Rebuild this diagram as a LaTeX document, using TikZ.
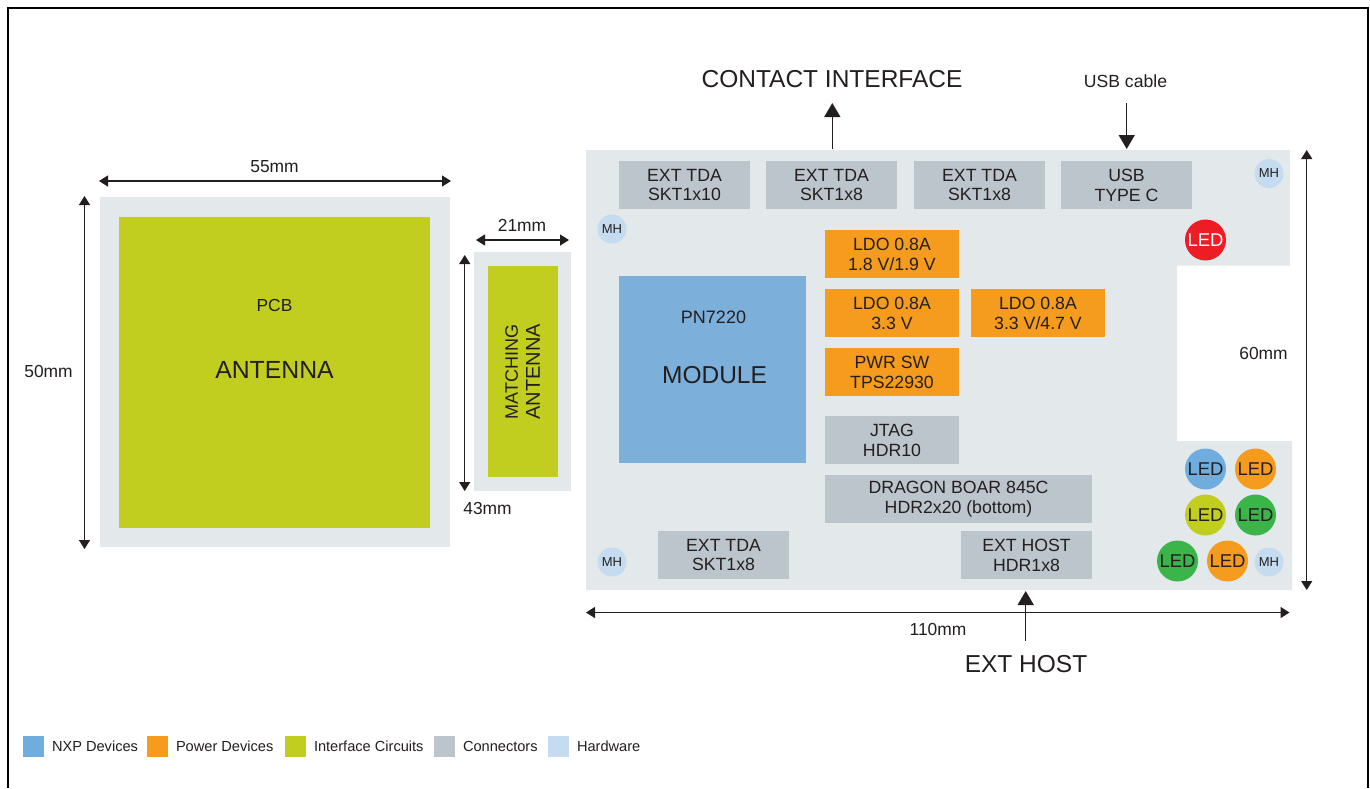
\documentclass[tikz,border=0pt]{standalone}
\usepackage{fontspec}
\setmainfont{Liberation Sans}
\usetikzlibrary{arrows.meta}
\definecolor{nxpblue}{HTML}{6FADDE}
\definecolor{modblue}{HTML}{7DAFDB}
\definecolor{pwr}{HTML}{F59B1E}
\definecolor{iface}{HTML}{C1CE20}
\definecolor{conn}{HTML}{BDC5CC}
\definecolor{hw}{HTML}{C5DCF0}
\definecolor{pale}{HTML}{E3E8EB}
\definecolor{ledgreen}{HTML}{3BB54A}
\definecolor{ledred}{HTML}{EE1C25}
\definecolor{ink}{HTML}{231F20}
\tikzset{
  x=1pt,y=-1pt,
  every node/.style={text=ink,inner sep=0pt,outer sep=0pt},
  boxbase/.style={draw=none,align=center,font=\fontsize{17.7}{19.8}\selectfont},
  conbox/.style={boxbase,fill=conn},
  pwrbox/.style={boxbase,fill=pwr},
  ledc/.style={circle,minimum size=41,font=\fontsize{18.5}{20}\selectfont},
  mhc/.style={circle,fill=hw,minimum size=29,font=\fontsize{13}{14}\selectfont},
  lab/.style={font=\fontsize{17.4}{20}\selectfont},
  dim/.style={draw=ink,line width=1.2pt,{Triangle[length=9pt,width=11pt]}-{Triangle[length=9pt,width=11pt]}},
  bigarrow/.style={draw=ink,line width=1.5pt,-{Triangle[length=14pt,width=16pt]}},
  legtx/.style={anchor=west,font=\fontsize{14.6}{16}\selectfont},
}
\newcommand{\bx}[7]{\node[#2,minimum width=#5-#3,minimum height=#6-#4] (#1) at ({(#3+#5)/2},{(#4+#6)/2}) {#7};}
\begin{document}
\begin{tikzpicture}
\useasboundingbox (0,0) rectangle (1370,788);
\fill[white] (0,0) rectangle (1370,788);
% outer frame
\draw[black,line width=2pt] (8,788) -- (8,8) -- (1368,8) -- (1368,788);
% left panels
\bx{pcbback}{fill=pale}{100}{197}{450}{547}{}
\bx{antenna}{fill=iface}{119}{217}{430}{528}{}
\node[lab] (pcb) at (274.5,306) {PCB};
\node[font=\fontsize{24.8}{28}\selectfont] (anttxt) at (274.5,370) {ANTENNA};
\bx{matchback}{fill=pale}{474}{252}{571}{491}{}
\bx{matching}{fill=iface}{488}{266}{558}{477}{}
\node[rotate=90,anchor=west,font=\fontsize{18}{21}\selectfont] (matchtxt) at (511.7,419.5) {MATCHING};
\node[rotate=90,anchor=west,font=\fontsize{20}{21}\selectfont] (matchtxtb) at (533,419.5) {ANTENNA};
% board
\fill[pale] (586,150) -- (1290,150) -- (1290,265.5) -- (1177,265.5) -- (1177,441) -- (1292,441) -- (1292,590) -- (586,590) -- cycle;
\bx{tda1}{conbox}{619}{161}{750}{209}{EXT TDA\\SKT1x10}
\bx{tda2}{conbox}{766}{161}{897}{209}{EXT TDA\\SKT1x8}
\bx{tda3}{conbox}{914}{161}{1045}{209}{EXT TDA\\SKT1x8}
\bx{usb}{conbox}{1061}{161}{1192}{209}{USB\\TYPE C}
\bx{ldoa}{pwrbox}{825}{230}{959}{278}{LDO 0.8A\\1.8 V/1.9 V}
\bx{ldob}{pwrbox}{825}{289}{959}{337}{LDO 0.8A\\3.3 V}
\bx{ldoc}{pwrbox}{971}{289}{1105}{337}{LDO 0.8A\\3.3 V/4.7 V}
\bx{pwrsw}{pwrbox}{825}{348}{959}{396}{PWR SW\\TPS22930}
\bx{jtag}{conbox}{825}{416}{959}{464}{JTAG\\HDR10}
\bx{dragon}{conbox}{825}{475}{1092}{523}{DRAGON BOAR 845C\\HDR2x20 (bottom)}
\bx{tda4}{conbox}{658}{531}{789}{579}{EXT TDA\\SKT1x8}
\bx{host}{conbox}{961}{531}{1092}{579}{EXT HOST\\HDR1x8}
\bx{module}{fill=modblue}{619}{276}{806}{463}{}
\node[font=\fontsize{18}{20}\selectfont] (pn) at (713.5,317) {PN7220};
\node[font=\fontsize{24.5}{29}\selectfont] (modtxt) at (714.5,375) {MODULE};
% mounting holes
\node[mhc] (mh1) at (612,229) {MH};
\node[mhc] (mh2) at (1269,173.5) {MH};
\node[mhc] (mh3) at (612,562) {MH};
\node[mhc] (mh4) at (1269,562) {MH};
% LEDs
\node[ledc,fill=ledred,text=white] (led1) at (1205.5,240) {LED};
\node[ledc,fill=nxpblue] (led2) at (1205.5,469) {LED};
\node[ledc,fill=pwr] (led3) at (1255.5,469) {LED};
\node[ledc,fill=iface] (led4) at (1205.5,515) {LED};
\node[ledc,fill=ledgreen] (led5) at (1255.5,515) {LED};
\node[ledc,fill=ledgreen] (led6) at (1177.5,561) {LED};
\node[ledc,fill=pwr] (led7) at (1227.5,561) {LED};
% dimension labels
\node[lab] (d55) at (274.5,167) {55mm};
\node[lab] (d50) at (48.5,372) {50mm};
\node[lab] (d21) at (522,225) {21mm};
\node[lab] (d43) at (487.5,508) {43mm};
\node[lab] (d110) at (938,629) {110mm};
\node[lab] (d60) at (1263.5,354) {60mm};
% dimension arrows
\coordinate (a1) at (99,181); \coordinate (a2) at (451,181);
\draw[dim] (a1) -- (a2);
\coordinate (b1) at (84.5,196); \coordinate (b2) at (84.5,549);
\draw[dim] (b1) -- (b2);
\coordinate (c1) at (476,240); \coordinate (c2) at (569,240);
\draw[dim] (c1) -- (c2);
\coordinate (e1) at (464.7,255); \coordinate (e2) at (464.7,491);
\draw[dim] (e1) -- (e2);
\coordinate (f1) at (586,612.5); \coordinate (f2) at (1289.5,612.5);
\draw[dim] (f1) -- (f2);
\coordinate (g1) at (1306.7,150); \coordinate (g2) at (1306.7,590);
\draw[dim] (g1) -- (g2);
% callouts
\node[font=\fontsize{24.5}{28}\selectfont] (contact) at (832,79.5) {CONTACT INTERFACE};
\node[font=\fontsize{17.6}{20}\selectfont] (usbcable) at (1125.5,81) {USB cable};
\node[font=\fontsize{24.5}{28}\selectfont] (exthost) at (1026,664.5) {EXT HOST};
\coordinate (h1) at (832.3,149); \coordinate (h2) at (832.3,103);
\draw[bigarrow] (h1) -- (h2);
\coordinate (i1) at (1126.7,103); \coordinate (i2) at (1126.7,149);
\draw[bigarrow] (i1) -- (i2);
\coordinate (j1) at (1025.7,640.5); \coordinate (j2) at (1025.7,591);
\draw[bigarrow] (j1) -- (j2);
% legend
\bx{l1}{fill=nxpblue}{23}{736}{44}{757}{}
\node[legtx] (l1t) at (52,746) {NXP Devices};
\bx{l2}{fill=pwr}{147}{736}{168}{757}{}
\node[legtx] (l2t) at (176,746) {Power Devices};
\bx{l3}{fill=iface}{285}{736}{306}{757}{}
\node[legtx] (l3t) at (314,746) {Interface Circuits};
\bx{l4}{fill=conn}{434}{736}{455}{757}{}
\node[legtx] (l4t) at (463,746) {Connectors};
\bx{l5}{fill=hw}{548}{736}{569}{757}{}
\node[legtx] (l5t) at (577,746) {Hardware};
\end{tikzpicture}
\end{document}
